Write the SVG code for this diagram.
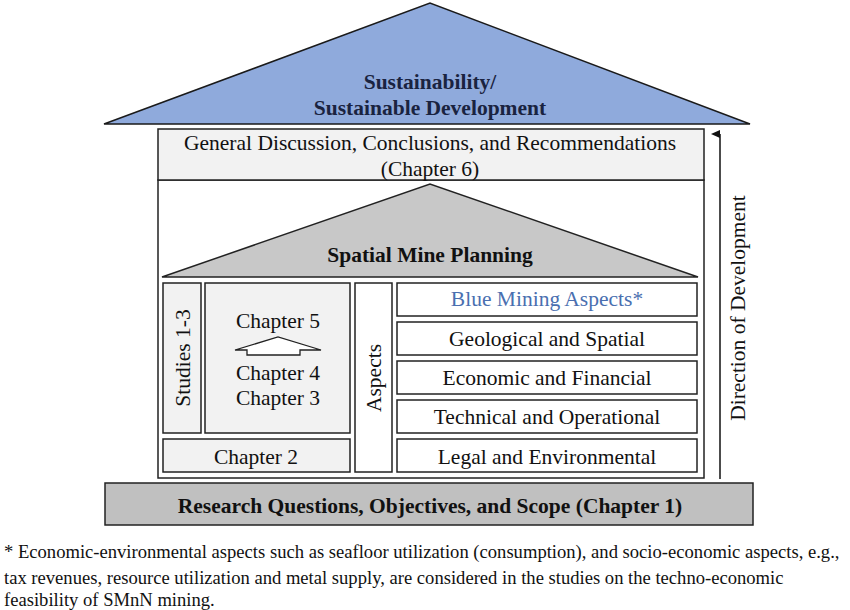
<svg xmlns="http://www.w3.org/2000/svg" width="850" height="610" viewBox="0 0 850 610">
<style>
text{font-family:"Liberation Serif","Times New Roman",serif;fill:#111;}
.t{font-size:21.5px;text-anchor:middle;}
.b{font-weight:bold;}
.box{stroke:#222;stroke-width:1.5;}
.lt{fill:#f2f2f2;}
.wh{fill:#fff;}
.fn{font-size:18.6px;}
</style>
<defs>
<marker id="ah" markerWidth="10" markerHeight="10" refX="5" refY="9" orient="auto-start-reverse" markerUnits="userSpaceOnUse" viewBox="0 0 10 10">
<path d="M1,9 L5,0 L9,9 Z" fill="#111"/>
</marker>
</defs>
<rect width="850" height="610" fill="#fff"/>
<g id="roof">
<polygon points="104,124 430,3 750,124" fill="#8faadc" stroke="#1a1a1a" stroke-width="1.5"/>
<text class="t b" x="430" y="89" style="fill:#1a2340">Sustainability/</text>
<text class="t b" x="430" y="115" style="fill:#1a2340">Sustainable Development</text>
</g>
<g id="outer">
<rect class="box wh" x="158" y="180" width="546" height="298"/>
</g>
<g id="chapter6">
<rect class="box lt" x="158" y="129" width="546" height="51"/>
<text class="t" x="430" y="150">General Discussion, Conclusions, and Recommendations</text>
<text class="t" x="430" y="176">(Chapter 6)</text>
</g>
<g id="spatial">
<polygon points="162,277 430,184 698,277" fill="#c8c8c8" stroke="#222" stroke-width="1.5"/>
<text class="t b" x="430" y="262">Spatial Mine Planning</text>
</g>
<g id="studies">
<rect class="box lt" x="163" y="283" width="38" height="150"/>
<text class="t" transform="translate(190,358) rotate(-90)">Studies 1-3</text>
</g>
<g id="chapters">
<rect class="box lt" x="205" y="283" width="145" height="150"/>
<text class="t" x="278" y="328">Chapter 5</text>
<polygon points="235,350 278,337 321,350 300,350 300,355 247,355 247,350" fill="#fff" stroke="#222" stroke-width="1.3"/>
<text class="t" x="278" y="380">Chapter 4</text>
<text class="t" x="278" y="405">Chapter 3</text>
</g>
<g id="chapter2">
<rect class="box lt" x="163" y="439" width="187" height="33"/>
<text class="t" x="256" y="464">Chapter 2</text>
</g>
<g id="aspects">
<rect class="box wh" x="355" y="283" width="37" height="189"/>
<text class="t" transform="translate(381,378) rotate(-90)">Aspects</text>
</g>
<g id="blue">
<rect class="box wh" x="397" y="283" width="300" height="33"/>
<text class="t" x="547" y="306" style="fill:#4a6fb0">Blue Mining Aspects*</text>
</g>
<g id="geo">
<rect class="box wh" x="397" y="322" width="300" height="33"/>
<text class="t" x="547" y="346">Geological and Spatial</text>
</g>
<g id="eco">
<rect class="box wh" x="397" y="361" width="300" height="33"/>
<text class="t" x="547" y="385">Economic and Financial</text>
</g>
<g id="tech">
<rect class="box wh" x="397" y="400" width="300" height="33"/>
<text class="t" x="547" y="424">Technical and Operational</text>
</g>
<g id="legal">
<rect class="box wh" x="397" y="439" width="300" height="33"/>
<text class="t" x="547" y="464">Legal and Environmental</text>
</g>
<g id="research">
<rect class="box" x="105" y="483" width="648" height="42" fill="#c0c0c0"/>
<text class="t b" x="430" y="513">Research Questions, Objectives, and Scope (Chapter 1)</text>
</g>
<g id="connectors">
<line x1="720" y1="479" x2="720" y2="134" stroke="#111" stroke-width="1.5" marker-end="url(#ah)"/>
</g>
<g id="direction">
<text class="t" transform="translate(745,308) rotate(-90)">Direction of Development</text>
</g>
<g id="footnote">
<text class="fn" x="4" y="558">* Economic-environmental aspects such as seafloor utilization (consumption), and socio-economic aspects, e.g.,</text>
<text class="fn" x="4" y="584">tax revenues, resource utilization and metal supply, are considered in the studies on the techno-economic</text>
<text class="fn" x="4" y="606">feasibility of SMnN mining.</text>
</g>
</svg>
